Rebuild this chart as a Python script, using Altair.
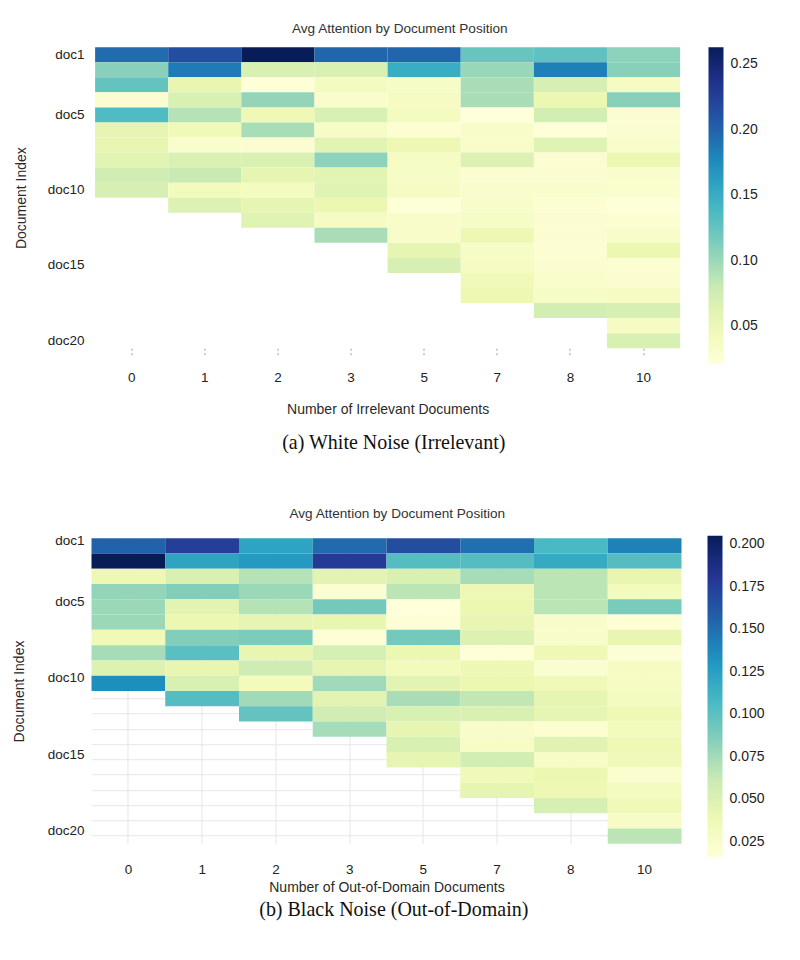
import json

import altair as alt
import pandas as pd

FONT = "Liberation Sans"
SERIF = "Liberation Serif"

# number of added documents (x categories) and document slots (y categories)
COUNTS = [0, 1, 2, 3, 5, 7, 8, 10]
DOCS = [f"doc{i}" for i in range(1, 21)]
SHOWN_DOCS = ["doc1", "doc5", "doc10", "doc15", "doc20"]

# average attention per document slot, white noise (irrelevant documents)
irr_0 = [0.195, 0.108, 0.125, 0.028, 0.135, 0.057, 0.055, 0.060, 0.074, 0.069]
irr_1 = [0.215, 0.186, 0.055, 0.067, 0.089, 0.045, 0.031, 0.067, 0.079, 0.043, 0.065]
irr_2 = [0.263, 0.067, 0.023, 0.103, 0.048, 0.094, 0.028, 0.067, 0.057, 0.040, 0.057,
         0.062]
irr_3 = [0.198, 0.067, 0.040, 0.031, 0.067, 0.035, 0.060, 0.106, 0.060, 0.062, 0.052,
         0.038, 0.094]
irr_5 = [0.198, 0.149, 0.036, 0.038, 0.040, 0.026, 0.050, 0.038, 0.036, 0.038, 0.023,
         0.033, 0.033, 0.057, 0.069]
irr_7 = [0.123, 0.101, 0.094, 0.094, 0.021, 0.033, 0.033, 0.065, 0.028, 0.031, 0.033,
         0.036, 0.050, 0.036, 0.038, 0.045, 0.050]
irr_8 = [0.127, 0.183, 0.069, 0.052, 0.072, 0.022, 0.062, 0.028, 0.028, 0.031, 0.026,
         0.028, 0.028, 0.026, 0.028, 0.031, 0.035, 0.072]
irr_10 = [0.106, 0.108, 0.038, 0.108, 0.028, 0.028, 0.031, 0.052, 0.031, 0.030, 0.022,
          0.026, 0.033, 0.052, 0.026, 0.028, 0.038, 0.069, 0.038, 0.067]

# average attention per document slot, black noise (out-of-domain documents)
ood_0 = [0.156, 0.205, 0.038, 0.080, 0.078, 0.078, 0.035, 0.074, 0.050, 0.135]
ood_1 = [0.176, 0.122, 0.052, 0.086, 0.046, 0.040, 0.086, 0.101, 0.042, 0.052, 0.103]
ood_2 = [0.122, 0.129, 0.069, 0.078, 0.069, 0.044, 0.088, 0.042, 0.059, 0.033, 0.076,
         0.097]
ood_3 = [0.152, 0.178, 0.046, 0.021, 0.091, 0.042, 0.018, 0.054, 0.044, 0.076, 0.046,
         0.057, 0.074]
ood_5 = [0.167, 0.103, 0.052, 0.067, 0.016, 0.018, 0.091, 0.040, 0.033, 0.046, 0.073,
         0.052, 0.044, 0.052, 0.044]
ood_7 = [0.150, 0.103, 0.074, 0.038, 0.040, 0.042, 0.050, 0.017, 0.038, 0.040, 0.065,
         0.052, 0.025, 0.027, 0.056, 0.035, 0.044]
ood_8 = [0.107, 0.118, 0.067, 0.067, 0.067, 0.025, 0.025, 0.037, 0.022, 0.035, 0.044,
         0.044, 0.020, 0.048, 0.027, 0.040, 0.038, 0.054]
ood_10 = [0.141, 0.103, 0.042, 0.033, 0.089, 0.019, 0.042, 0.018, 0.029, 0.029, 0.031,
          0.037, 0.033, 0.037, 0.035, 0.023, 0.031, 0.035, 0.027, 0.067]

IRR_COLUMNS = [irr_0, irr_1, irr_2, irr_3, irr_5, irr_7, irr_8, irr_10]
OOD_COLUMNS = [ood_0, ood_1, ood_2, ood_3, ood_5, ood_7, ood_8, ood_10]

# ColorBrewer YlGnBu, light to dark
YLGNBU = ["#ffffd9", "#edf8b1", "#c7e9b4", "#7fcdbb", "#41b6c4",
          "#1d91c0", "#225ea8", "#253494", "#081d58"]

TITLE = "Avg Attention by Document Position"
LABEL_EXPR = f"indexof({json.dumps(SHOWN_DOCS)}, datum.value) >= 0 ? datum.label : ''"


def to_long(columns):
    rows = []
    for n, vals in zip(COUNTS, columns):
        for i, v in enumerate(vals):
            rows.append({"n": n, "doc": DOCS[i], "att": v})
    return pd.DataFrame(rows)


def note(text, x, y, **style):
    return (
        alt.Chart(pd.DataFrame({"t": [text]}))
        .mark_text(**style)
        .encode(x=alt.value(x), y=alt.value(y), text="t:N")
    )


def panel(df, x_title, caption, cfg):
    lo, hi = float(df["att"].min()), float(df["att"].max())
    stops = [lo + (hi - lo) * k / (len(YLGNBU) - 1) for k in range(len(YLGNBU))]

    color = alt.Color(
        "att:Q",
        scale=alt.Scale(domain=stops, range=YLGNBU, interpolate="rgb"),
        legend=alt.Legend(
            orient="none", legendX=cfg["legend_x"], legendY=cfg["legend_y"],
            direction="vertical", gradientLength=cfg["legend_len"],
            gradientThickness=15, gradientStrokeWidth=0, title=None,
            values=cfg["legend_values"], format=cfg["legend_fmt"],
            labelFont=FONT, labelFontSize=14, labelColor="#222",
            labelOffset=7, labelOverlap=False,
        ),
    )
    x = alt.X(
        "n:O",
        scale=alt.Scale(domain=COUNTS, range=cfg["x_range"],
                        paddingInner=0, paddingOuter=0),
        axis=alt.Axis(
            title=x_title, labelAngle=0, domain=False, bandPosition=0.5,
            titleX=(cfg["x_range"][0] + cfg["x_range"][1]) / 2,
            titleY=cfg["x_title_y"], titleBaseline="middle", zindex=0,
            labelPadding=cfg["x_label_pad"], **cfg["x_extra"],
        ),
    )
    y = alt.Y(
        "doc:N",
        scale=alt.Scale(domain=DOCS, paddingInner=0, paddingOuter=0),
        axis=alt.Axis(
            title="Document Index", labelExpr=LABEL_EXPR, labelOverlap=False,
            ticks=False, domain=False, bandPosition=0.5, zindex=0,
            labelPadding=cfg["y_label_pad"], labelOffset=cfg["y_label_offset"],
            titleX=cfg["y_title_x"], titleBaseline="middle",
            grid=cfg["grid"], gridColor="#e6e6e6", gridWidth=1,
        ),
    )
    heat = alt.Chart(df).mark_rect().encode(x=x, y=y, color=color)
    head = note(TITLE, cfg["title_xy"][0], cfg["title_xy"][1],
                font=FONT, fontSize=13.6, color="#333")
    foot = note(caption, cfg["caption_xy"][0], cfg["caption_xy"][1],
                font=SERIF, fontSize=20, color="#111")
    return alt.layer(heat, head, foot).properties(width=cfg["w"], height=cfg["h"])


top = panel(
    to_long(IRR_COLUMNS),
    "Number of Irrelevant Documents",
    "(a) White Noise (Irrelevant)",
    dict(
        w=588.6, h=301, x_range=[3.6, 588.6],
        legend_x=617, legend_y=0, legend_len=316.7,
        legend_values=[0.05, 0.10, 0.15, 0.20, 0.25], legend_fmt=".2f",
        x_title_y=61, x_label_pad=15,
        x_extra=dict(ticks=True, tickSize=7, tickColor="#9a9a9a",
                     tickDash=[2, 2.5], tickWidth=1, grid=False),
        y_label_pad=7.4, y_label_offset=0, y_title_x=-69.7, grid=False,
        title_xy=(308.3, -18.3), caption_xy=(302.3, 396),
    ),
)

bottom = panel(
    to_long(OOD_COLUMNS),
    "Number of Out-of-Domain Documents",
    "(b) Black Noise (Out-of-Domain)",
    dict(
        w=590, h=305.6, x_range=[0, 590],
        legend_x=616, legend_y=-2.4, legend_len=321.4,
        legend_values=[0.025, 0.05, 0.075, 0.10, 0.125, 0.15, 0.175, 0.20],
        legend_fmt=".3f",
        x_title_y=43.7, x_label_pad=18.7,
        x_extra=dict(ticks=False, grid=True, gridColor="#e6e6e6", gridWidth=1),
        y_label_pad=7.4, y_label_offset=-5, y_title_x=-71.7, grid=True,
        title_xy=(305.8, -24), caption_xy=(302.3, 372.3),
    ),
)

chart = (
    alt.concat(top, bottom, columns=1, spacing=54)
    .resolve_scale(color="independent")
    .resolve_legend(color="independent")
    .properties(padding={"left": 12.5, "top": 21.2, "right": 5, "bottom": 5},
                background="white")
    .configure_view(stroke=None)
    .configure_axis(
        labelFont=FONT, titleFont=FONT, labelFontSize=13.5, titleFontSize=14,
        labelColor="#222", titleColor="#2a2a2a", titleFontWeight="normal",
    )
)

chart.save("out.html", embed_options={"renderer": "svg", "actions": False})
